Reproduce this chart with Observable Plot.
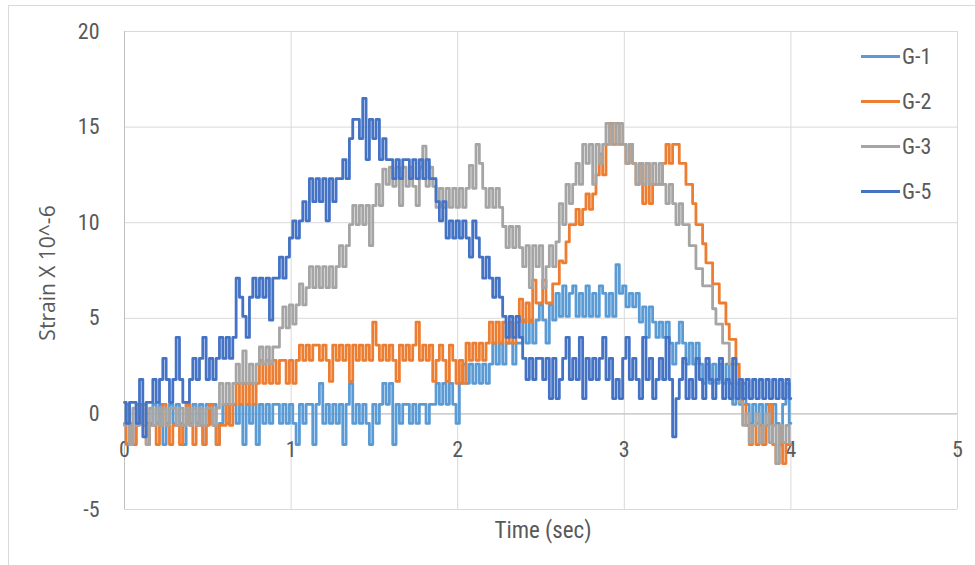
<!DOCTYPE html>
<html>
<head>
<meta charset="utf-8">
<script src="https://cdn.jsdelivr.net/npm/d3@7"></script>
<script src="https://cdn.jsdelivr.net/npm/@observablehq/plot@0.6"></script>
<style>
  html, body { margin: 0; padding: 0; background: #fff; }
  #wrap { position: relative; width: 975px; height: 565px; overflow: hidden; font-family: "Liberation Sans Narrow", "Roboto Condensed", Lato, sans-serif; }
  #frame { position: absolute; left: 8px; top: 5px; width: 990px; height: 590px; border: 1px solid #d9d9d9; box-sizing: border-box; }
  #chart { position: absolute; left: 0; top: 0; }
  .leg { position: absolute; left: 861px; height: 28px; display: flex; align-items: center; color: #595959; font-size: 22px; }
  .leg span.sw { display: inline-block; width: 39px; height: 3px; margin-right: 2px; }
</style>
</head>
<body>
<div id="wrap"><div id="frame"></div><div id="chart"></div></div>
<script>
// ---- data ----
const seriesNames = ["G-1", "G-2", "G-3", "G-5"];
const seriesColors = ["#5B9BD5", "#ED7D31", "#A5A5A5", "#4472C4"];
const xTicks = [0, 1, 2, 3, 4, 5];
const yTicks = [-5, 0, 5, 10, 15, 20];
const xTitle = "Time (sec)";
const yTitle = "Strain X 10^-6";
const sampleStep = 0.02; // seconds between samples, starting at 0

const g1 = [
 -0.5,0.5,-0.5,-1.6,0.5,-0.5,0.5,-0.5,-0.5,0.5,
 -0.5,0.5,-1.6,-0.5,0.5,-0.5,0.5,-0.5,-1.6,0.5,
 -0.5,0.5,-0.5,0.5,-1.6,0.5,-0.5,0.5,-1.6,-0.5,
 0.5,-0.5,0.5,0.5,-0.5,0.5,-1.6,0.5,-0.5,0.5,
 -1.6,0.5,-0.5,0.5,-0.5,0.5,0.5,-0.5,0.5,-0.5,
 0.5,-0.5,-1.6,0.5,-0.5,0.5,0.5,-1.6,0.5,1.6,
 -0.5,0.5,-0.5,0.5,-0.5,0.5,-1.6,0.5,1.6,-0.5,
 0.5,-0.5,0.5,-0.5,-1.6,0.5,-0.5,0.5,1.6,0.5,
 1.6,-1.6,0.5,-0.5,0.5,0.5,-0.5,0.5,-0.5,0.5,
 0.5,-0.5,0.5,0.5,1.6,0.5,1.6,0.5,1.6,0.5,
 -0.5,1.6,2.6,1.6,2.6,1.6,2.6,1.6,2.6,1.6,
 2.6,3.7,2.6,3.7,2.6,3.7,3.7,2.6,3.7,3.7,
 4.9,3.7,4.9,3.7,4.9,5.7,4.9,3.7,5.7,4.9,
 6.3,5.1,6.7,5.1,6.3,6.7,5.1,6.3,5.1,6.7,
 5.1,6.3,5.1,6.7,6.3,5.1,6.3,5.1,7.8,6.3,
 6.7,5.6,6.3,5.6,6.3,4.8,5.6,4.0,5.6,4.8,
 4.0,4.8,4.0,4.8,3.7,2.6,3.7,4.8,3.7,2.6,
 3.7,2.6,3.7,2.6,1.6,2.6,1.6,2.6,1.6,2.6,
 1.6,2.6,1.6,0.5,1.6,0.5,1.6,0.5,-0.5,0.5,
 -0.5,0.5,-1.6,0.5,-0.5,0.5,-0.5,-1.6,0.5,1.6,
 -0.5
];
const g2 = [
 -0.6,-1.6,-0.6,-1.6,-0.6,0.5,-0.6,-1.6,-0.6,-0.6,
 -1.6,-0.6,0.5,-0.6,-1.6,-0.6,-0.6,-1.6,-0.6,0.5,
 -0.6,-1.6,-0.6,-0.6,-1.6,-0.6,0.5,-0.6,-1.6,-0.6,
 -0.6,0.5,-0.6,0.5,1.6,0.5,1.6,0.5,1.6,0.5,
 1.6,2.8,1.6,2.8,1.6,2.8,1.6,2.8,2.8,1.6,
 2.8,1.6,2.8,3.6,2.8,3.6,2.8,3.6,3.6,2.8,
 3.6,2.8,1.7,3.6,2.8,3.6,2.8,3.6,1.7,3.6,
 2.8,3.6,2.8,3.6,2.8,4.8,3.6,2.8,3.6,2.8,
 3.6,2.8,1.7,3.6,2.8,3.6,2.8,3.6,4.8,2.8,
 3.6,2.8,3.6,1.7,2.8,3.6,2.8,1.7,3.6,2.8,
 1.6,2.8,1.6,3.7,2.8,3.7,2.8,3.7,2.8,3.7,
 4.8,3.7,4.8,3.7,4.8,3.7,4.8,3.7,4.8,6.0,
 4.8,5.8,4.8,7.0,5.8,5.8,7.0,5.8,5.8,6.8,
 6.8,8.0,7.9,9.0,9.9,9.9,10.7,9.9,10.7,11.5,
 10.7,11.5,12.5,13.6,12.5,14.1,15.2,14.1,15.2,14.1,
 14.1,13.1,14.1,13.1,12.0,13.1,11.0,13.1,11.0,12.0,
 12.0,12.0,13.1,14.1,13.1,14.1,14.1,13.1,13.1,12.0,
 12.0,11.0,9.9,9.9,8.9,7.9,7.9,6.8,6.8,5.8,
 5.8,4.7,3.9,3.9,2.6,1.6,0.5,-0.6,-1.6,-0.6,
 -1.6,-0.6,-1.6,-0.6,0.5,-1.6,-2.6,-0.6,-2.6,-1.6,
 -1.6
];
const g3 = [
 -0.6,0.3,-1.6,0.3,-0.6,0.3,-0.6,-1.6,0.3,-0.6,
 0.3,-0.6,0.3,-0.6,0.3,0.3,-0.6,0.3,-0.6,0.3,
 -0.6,0.3,-0.6,0.3,-0.6,0.3,0.3,-0.6,0.3,1.6,
 0.5,1.6,0.5,1.6,2.6,1.6,3.3,1.6,2.6,1.6,
 2.6,3.5,2.6,3.5,2.6,3.5,3.5,4.5,5.6,4.5,
 5.7,4.7,5.7,6.8,5.7,6.6,7.7,6.6,7.7,6.6,
 7.7,6.6,7.7,6.6,7.7,8.8,7.7,8.8,9.9,10.9,
 9.9,10.9,9.9,10.9,8.8,10.9,12.0,10.9,12.8,12.0,
 12.9,11.9,12.9,10.9,12.9,11.9,12.9,11.9,10.9,12.9,
 14.0,11.9,12.9,11.9,10.8,11.8,10.8,11.8,10.8,11.8,
 10.8,11.8,10.8,11.8,13.0,11.8,14.1,13.1,11.8,10.8,
 11.8,10.8,11.8,10.8,9.8,8.7,9.8,8.7,9.8,8.7,
 7.7,8.8,6.6,8.8,7.7,8.8,6.6,7.7,8.8,7.7,
 9.0,11.0,9.9,12.0,11.0,12.0,13.1,12.0,14.1,13.1,
 14.1,12.0,14.1,13.1,14.1,15.2,14.1,15.2,14.1,15.2,
 14.1,13.1,14.1,13.1,12.0,13.1,12.0,13.1,12.0,13.1,
 12.0,13.1,12.0,11.0,12.0,11.0,9.9,11.0,9.9,9.9,
 8.8,8.8,7.6,7.6,6.7,6.7,6.7,5.5,4.7,4.7,
 3.7,3.7,2.6,2.6,1.6,0.6,-0.6,0.0,-1.5,-0.6,
 0.0,-1.5,-0.6,0.0,-1.5,-0.6,-2.6,-0.6,-1.5,-0.6,
 -1.5
];
const g5 = [
 0.6,-0.5,0.6,0.6,-0.5,1.8,-1.2,0.6,0.6,1.8,
 0.6,1.8,2.9,1.8,0.6,1.8,4.0,1.8,0.6,0.6,
 1.8,2.9,1.8,2.9,4.0,1.8,2.9,1.8,2.9,4.0,
 2.9,4.0,2.9,4.0,7.1,6.1,5.1,4.0,6.1,7.1,
 6.1,7.1,6.1,7.1,4.9,7.1,7.1,8.2,7.1,8.2,
 9.2,10.1,9.2,10.1,11.1,10.1,12.3,11.1,12.3,11.1,
 12.3,10.1,12.3,11.1,12.3,12.3,13.3,12.3,14.4,15.4,
 15.4,14.4,16.5,13.3,15.4,14.4,15.4,13.3,14.4,13.3,
 13.3,12.3,13.3,12.3,13.3,13.3,12.3,13.3,12.3,13.3,
 12.3,13.3,12.3,12.3,11.1,10.1,11.1,9.2,10.1,9.2,
 10.1,9.2,10.1,9.2,8.2,10.1,9.2,8.2,7.1,8.2,
 7.1,6.1,7.1,6.1,5.1,4.0,5.1,4.0,5.1,4.0,
 2.9,1.8,2.9,1.8,2.9,2.9,1.8,2.9,0.8,2.9,
 0.8,1.8,2.9,4.0,1.8,2.9,1.8,4.0,0.8,2.9,
 1.8,2.9,1.8,2.9,4.0,1.8,2.9,0.8,1.8,0.8,
 2.9,4.0,1.8,2.9,1.8,0.8,4.0,1.8,2.9,0.8,
 1.8,2.9,1.8,4.0,1.8,-1.2,0.8,1.8,2.9,0.8,
 1.8,0.8,2.9,1.8,0.8,2.9,1.8,0.8,1.8,2.9,
 0.8,1.8,0.8,2.9,0.8,1.8,0.8,1.8,0.8,1.8,
 0.8,1.8,0.8,1.8,0.8,1.8,0.8,1.8,0.8,1.8,
 0.8
];
const seriesValues = [g1, g2, g3, g5];

// ---- build table ----
const rows = [];
seriesValues.forEach((vals, s) => {
  vals.forEach((v, i) => rows.push({series: seriesNames[s], t: +(i * sampleStep).toFixed(2), v}));
});

const fontFam = '"Liberation Sans Narrow", "Roboto Condensed", Lato, sans-serif';

const chart = Plot.plot({
  width: 975,
  height: 565,
  marginLeft: 124,
  marginRight: 18,
  marginTop: 31,
  marginBottom: 56,
  style: {fontFamily: fontFam, fontSize: "22px", color: "#595959", background: "transparent", overflow: "visible"},
  x: {domain: [0, 5]},
  y: {domain: [-5, 20]},
  color: {domain: seriesNames, range: seriesColors},
  marks: [
    Plot.gridX(xTicks, {stroke: "#d9d9d9", strokeOpacity: 1, strokeWidth: 1}),
    Plot.gridY(yTicks, {stroke: "#d9d9d9", strokeOpacity: 1, strokeWidth: 1}),
    Plot.ruleX([xTicks[0]], {stroke: "#bfbfbf", strokeWidth: 1}),
    Plot.ruleY([0], {stroke: "#bfbfbf", strokeWidth: 1}),
    Plot.axisY(yTicks, {tickSize: 0, tickPadding: 25, label: null, fontSize: 22, fill: "#595959", tickFormat: d => String(d)}),
    Plot.axisX([], {label: null, tickSize: 0}),
    Plot.text(xTicks, {x: d => d, y: () => 0, dy: 36, text: d => String(d), fontSize: 22, fill: "#595959"}),
    Plot.line(rows, {x: "t", y: "v", z: "series", stroke: "series", curve: "step", strokeWidth: 2.8, strokeLinejoin: "round"})
  ]
});

const svg = d3.select(chart);
svg.append("text")
  .attr("transform", "translate(55,273) rotate(-90)")
  .attr("text-anchor", "middle")
  .attr("fill", "#595959")
  .attr("font-size", 21)
  .attr("font-family", "Open Sans, Noto Sans, sans-serif")
  .style("font-family", "'Open Sans', 'Noto Sans', sans-serif")
  .style("font-size", "21px")
  .text(yTitle);
svg.append("text")
  .attr("x", 543)
  .attr("y", 538)
  .attr("text-anchor", "middle")
  .attr("fill", "#595959")
  .style("font-size", "23px")
  .style("font-family", fontFam)
  .text(xTitle);

document.getElementById("chart").appendChild(chart);

// legend
const wrap = document.getElementById("wrap");
seriesNames.forEach((name, i) => {
  const d = document.createElement("div");
  d.className = "leg";
  d.style.top = (56 + 45 * i - 14) + "px";
  d.innerHTML = `<span class="sw" style="background:${seriesColors[i]}"></span>${name}`;
  wrap.appendChild(d);
});
</script>
</body>
</html>
